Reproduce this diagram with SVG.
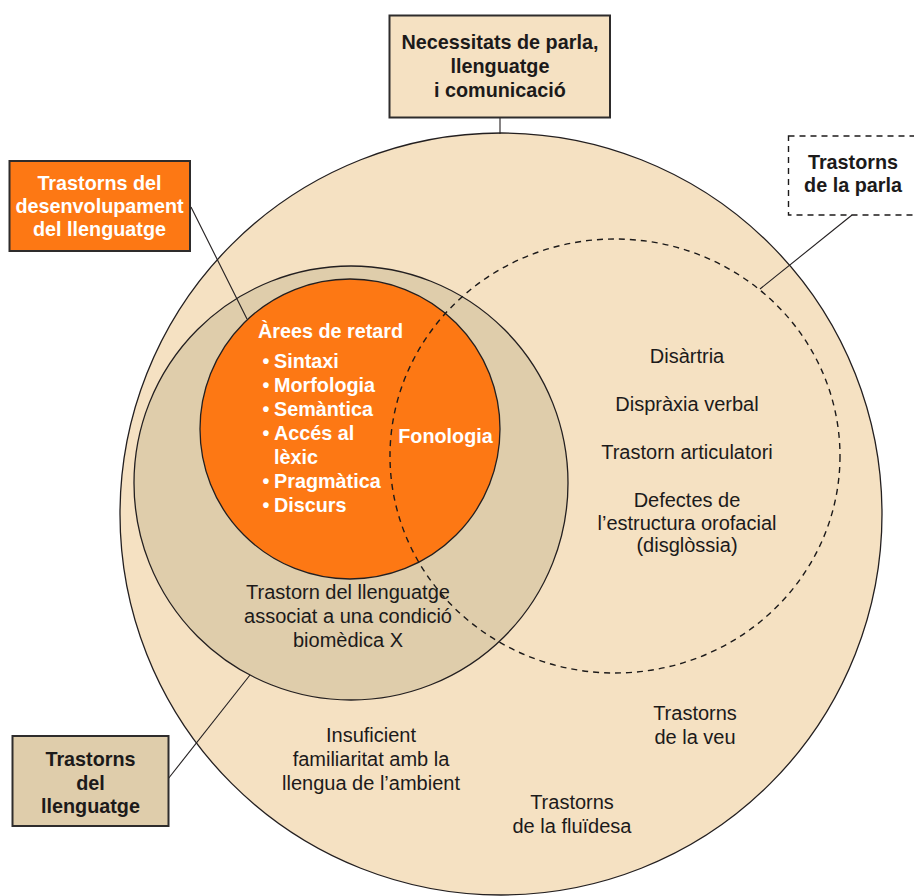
<svg xmlns="http://www.w3.org/2000/svg" width="914" height="896" viewBox="0 0 914 896">
  <style>
    .lbl { font-family: "Liberation Sans", Arial, sans-serif; font-size: 20px; fill: #1c1a1a; }
    .bold { font-weight: bold; font-size: 19.8px; }
    .white { fill: #ffffff; }
    .mid { text-anchor: middle; }
    .ring { stroke: #231f20; stroke-width: 1.3; }
    .box { stroke: #2e2c2c; stroke-width: 2; }
    .dash { fill: none; stroke: #1c1a1a; stroke-width: 1.4; stroke-dasharray: 6 5; }
    .conn { stroke: #231f20; stroke-width: 1.1; fill: none; }
  </style>

  <!-- Speech, language and communication needs (outer field) -->
  <g id="circle-necessitats">
    <circle cx="501" cy="514" r="381" fill="#f5e1c2" class="ring"/>
    <text class="lbl mid" x="371" y="742">Insuficient</text>
    <text class="lbl mid" x="371" y="766">familiaritat amb la</text>
    <text class="lbl mid" x="371" y="790">llengua de l’ambient</text>
    <text class="lbl mid" x="695" y="720">Trastorns</text>
    <text class="lbl mid" x="695" y="744">de la veu</text>
    <text class="lbl mid" x="572" y="809">Trastorns</text>
    <text class="lbl mid" x="572" y="833">de la fluïdesa</text>
  </g>

  <!-- Language disorders -->
  <g id="circle-llenguatge">
    <circle cx="351" cy="483" r="217" fill="#dfcdab" class="ring"/>
    <text class="lbl mid" x="348" y="599">Trastorn del llenguatge</text>
    <text class="lbl mid" x="348" y="623">associat a una condició</text>
    <text class="lbl mid" x="348" y="647">biomèdica X</text>
  </g>

  <!-- Developmental language disorder -->
  <g id="circle-desenvolupament">
    <circle cx="350" cy="429" r="150" fill="#fd7814" class="ring"/>
    <text class="lbl bold white" x="258" y="338">Àrees de retard</text>
    <g class="lbl bold white">
      <text x="262.5" y="368">•</text><text x="274" y="368">Sintaxi</text>
      <text x="262.5" y="392">•</text><text x="274" y="392">Morfologia</text>
      <text x="262.5" y="416">•</text><text x="274" y="416">Semàntica</text>
      <text x="262.5" y="440">•</text><text x="274" y="440">Accés al</text>
      <text x="274" y="464">lèxic</text>
      <text x="262.5" y="488">•</text><text x="274" y="488">Pragmàtica</text>
      <text x="262.5" y="512">•</text><text x="274" y="512">Discurs</text>
    </g>
    <text class="lbl bold white mid" x="445.5" y="443">Fonologia</text>
  </g>

  <!-- Speech disorders (dashed boundary) -->
  <g id="circle-parla">
    <ellipse cx="615" cy="456" rx="225" ry="217" class="dash"/>
    <text class="lbl mid" x="687" y="363">Disàrtria</text>
    <text class="lbl mid" x="687" y="411">Dispràxia verbal</text>
    <text class="lbl mid" x="687" y="459">Trastorn articulatori</text>
    <text class="lbl mid" x="687" y="507">Defectes de</text>
    <text class="lbl mid" x="687" y="530">l’estructura orofacial</text>
    <text class="lbl mid" x="687" y="552">(disglòssia)</text>
  </g>

  <!-- Leader lines from the labels to their areas -->
  <g id="connectors">
    <line class="conn" x1="500" y1="118" x2="500" y2="134"/>
    <line class="conn" x1="191" y1="207" x2="247" y2="319"/>
    <line class="conn" x1="852" y1="215" x2="760" y2="289"/>
    <line class="conn" x1="168" y1="779" x2="250" y2="675"/>
  </g>

  <g id="box-necessitats">
    <rect x="389.5" y="15.5" width="220.5" height="102" fill="#f5e1c2" class="box"/>
    <text class="lbl bold mid" x="500" y="49">Necessitats de parla,</text>
    <text class="lbl bold mid" x="500" y="73">llenguatge</text>
    <text class="lbl bold mid" x="500" y="97">i comunicació</text>
  </g>

  <g id="box-desenvolupament">
    <rect x="9.5" y="161" width="180.5" height="90" fill="#fd7814" class="box"/>
    <text class="lbl bold white mid" x="99.5" y="190">Trastorns del</text>
    <text class="lbl bold white mid" x="99.5" y="213">desenvolupament</text>
    <text class="lbl bold white mid" x="99.5" y="236">del llenguatge</text>
  </g>

  <g id="box-parla">
    <rect x="788.5" y="136" width="160" height="79" fill="#ffffff" class="dash"/>
    <text class="lbl bold mid" x="853" y="169">Trastorns</text>
    <text class="lbl bold mid" x="853" y="192">de la parla</text>
  </g>

  <g id="box-llenguatge">
    <rect x="12.5" y="736" width="156" height="90" fill="#dfcdab" class="box"/>
    <text class="lbl bold mid" x="90.5" y="766">Trastorns</text>
    <text class="lbl bold mid" x="90.5" y="790">del</text>
    <text class="lbl bold mid" x="90.5" y="813">llenguatge</text>
  </g>
</svg>
